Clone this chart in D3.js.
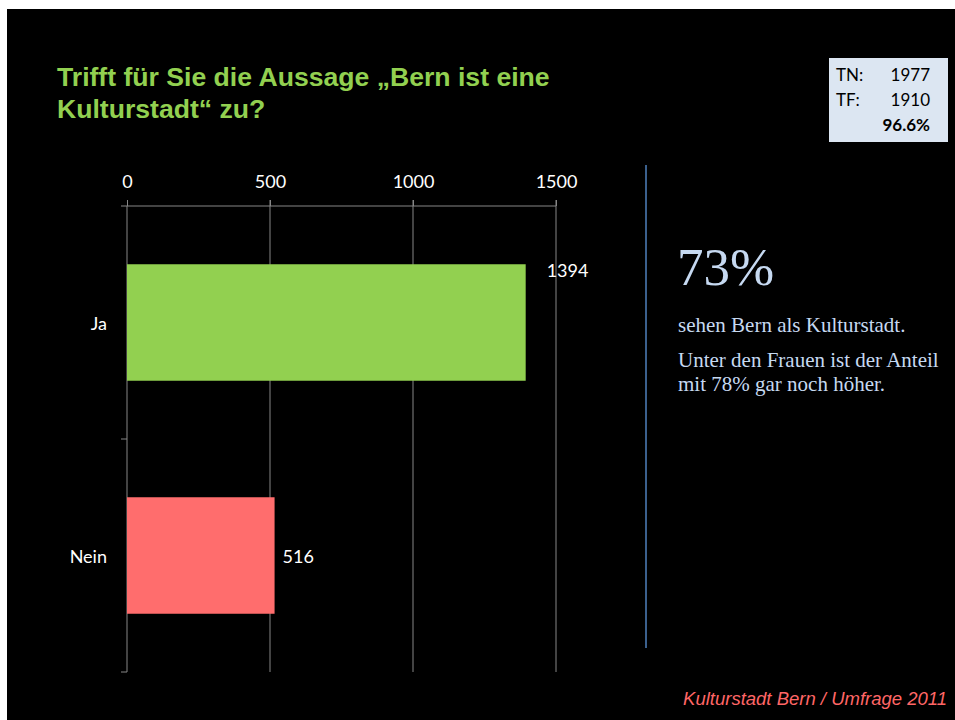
<!DOCTYPE html>
<html>
<head>
<meta charset="utf-8">
<script src="https://cdn.jsdelivr.net/npm/d3@7"></script>
<style>
  body { margin: 0; background: #fff; }
</style>
</head>
<body>
<script>
// data
var categories = ['Ja', 'Nein'];
var counts = [1394, 516];
var barColors = ['#92D050', '#FF6D6D'];
var xTicks = [0, 500, 1000, 1500];
var titleLines = ['Trifft für Sie die Aussage „Bern ist eine', 'Kulturstadt“ zu?'];
var boxRows = [['TN:', '1977'], ['TF:', '1910'], ['', '96.6%']];
var sideLines = ['sehen Bern als Kulturstadt.', 'Unter den Frauen ist der Anteil', 'mit 78% gar noch höher.'];

var width = 955, height = 720;
var svg = d3.select('body').append('svg')
    .attr('width', width)
    .attr('height', height);

// black slide
svg.append('rect').attr('x', 7).attr('y', 9).attr('width', width - 7).attr('height', height - 9).attr('fill', '#000');

// title
svg.selectAll('.title').data(titleLines).enter().append('text')
    .attr('x', 57).attr('y', (d, i) => 86 + i * 32)
    .attr('fill', '#92D050')
    .style('font-family', 'Liberation Sans, Arial, sans-serif')
    .style('font-weight', 'bold')
    .style('font-size', '26.6px')
    .text(d => d);

// TN / TF box
svg.append('rect').attr('x', 829).attr('y', 58).attr('width', 119).attr('height', 84).attr('fill', '#DCE6F2');
boxRows.forEach(function(r, i) {
    svg.append('text').attr('x', 836).attr('y', 81 + i * 25).text(r[0])
        .style('font-family', 'Lato, sans-serif').style('font-size', '17px').attr('fill', '#000');
    svg.append('text').attr('x', 930).attr('y', 81 + i * 25).text(r[1])
        .attr('text-anchor', 'end')
        .style('font-family', 'Lato, sans-serif').style('font-size', '17px')
        .style('font-weight', i == 2 ? 'bold' : 'normal').attr('fill', '#000');
});

// chart
var x0 = 127, y0 = 206, y1 = 672;
var xScale = d3.scaleLinear().domain([0, 1500]).range([x0, 556]);
var yScale = d3.scaleBand().domain(categories).range([y0, y1]).paddingInner(0.5).paddingOuter(0.25);

var g = svg.append('g');

// gridlines
g.selectAll('.grid').data(xTicks.slice(1)).enter().append('line')
    .attr('x1', d => xScale(d)).attr('x2', d => xScale(d))
    .attr('y1', y0 - 6).attr('y2', y1)
    .attr('stroke', '#868686').attr('stroke-width', 1);

// top axis
var xAxis = d3.axisTop(xScale).tickValues(xTicks).tickFormat(d3.format('d')).tickSize(6).tickSizeOuter(0).tickPadding(12);
var ax = g.append('g').attr('transform', `translate(0,${y0})`).call(xAxis);
ax.select('.domain').attr('stroke', '#868686').attr('d', `M${x0 - 6},0H${xScale(1500)}`);
ax.selectAll('.tick line').attr('stroke', '#868686');
ax.selectAll('.tick text').attr('fill', '#fff')
    .style('font-family', 'Lato, sans-serif').style('font-size', '18px');

// left axis
g.append('line').attr('x1', x0).attr('x2', x0).attr('y1', y0).attr('y2', y1).attr('stroke', '#868686');
var catTicks = [y0, (y0 + y1) / 2, y1];
g.selectAll('.ctick').data(catTicks.slice(1)).enter().append('line')
    .attr('x1', x0 - 6).attr('x2', x0).attr('y1', d => d).attr('y2', d => d)
    .attr('stroke', '#868686');

// bars
g.selectAll('.bar').data(counts).enter().append('rect')
    .attr('x', x0)
    .attr('y', (d, i) => yScale(categories[i]))
    .attr('width', d => xScale(d) - x0)
    .attr('height', yScale.bandwidth())
    .attr('fill', (d, i) => barColors[i]);

// category labels
g.selectAll('.cat').data(categories).enter().append('text')
    .attr('x', 107).attr('y', d => yScale(d) + yScale.bandwidth() / 2 + 7)
    .attr('text-anchor', 'end').attr('fill', '#fff')
    .style('font-family', 'Lato, sans-serif').style('font-size', '18px')
    .text(d => d);

// value labels
g.selectAll('.val').data(counts).enter().append('text')
    .attr('x', d => xScale(d) + (d > 1000 ? 21 : 8))
    .attr('y', (d, i) => i == 0 ? yScale(categories[i]) + 13 : yScale(categories[i]) + yScale.bandwidth() / 2 + 7)
    .attr('fill', '#fff')
    .style('font-family', 'Lato, sans-serif').style('font-size', '18px')
    .text(d => d);

// divider
svg.append('line').attr('x1', 646).attr('x2', 646).attr('y1', 165).attr('y2', 648)
    .attr('stroke', '#4F81BD').attr('stroke-width', 1.5);

// side text
svg.append('text').attr('x', 677).attr('y', 285).text('73%')
    .attr('fill', '#C6D9F1')
    .style('font-family', 'Liberation Serif, Times New Roman, serif').style('font-size', '53px');
svg.selectAll('.side').data(sideLines).enter().append('text')
    .attr('x', 678).attr('y', (d, i) => [332, 367, 391][i])
    .attr('fill', '#C6D9F1')
    .style('font-family', 'Liberation Serif, Times New Roman, serif').style('font-size', '21px')
    .text(d => d);

// footer
svg.append('text').attr('x', 947).attr('y', 705).attr('text-anchor', 'end')
    .attr('fill', '#FF6666')
    .style('font-family', 'Liberation Sans, Arial, sans-serif').style('font-style', 'italic').style('font-size', '18.5px')
    .text('Kulturstadt Bern / Umfrage 2011');
</script>
</body>
</html>
